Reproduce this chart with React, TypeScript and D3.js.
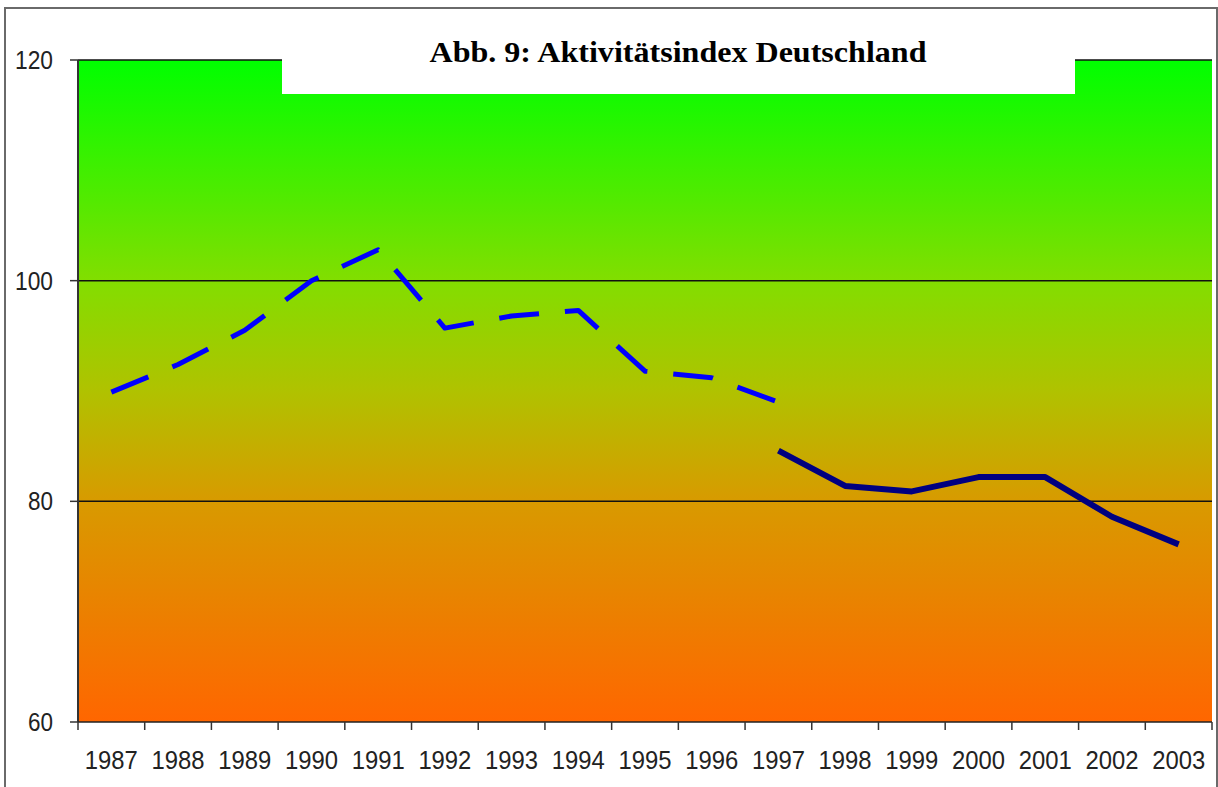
import { useEffect, useRef } from "react";
import * as d3 from "d3";

const years = [
  "1987", "1988", "1989", "1990", "1991", "1992", "1993", "1994", "1995",
  "1996", "1997", "1998", "1999", "2000", "2001", "2002", "2003",
];
// old series (dashed), 1987-1997
const oldYears = years.slice(0, 11);
const oldValues = [89.9, 92.4, 95.5, 100.0, 102.8, 95.7, 96.8, 97.3, 91.8, 91.2, 89.0];
// new series (solid), 1997-2003
const newYears = years.slice(10);
const newValues = [84.6, 81.4, 80.9, 82.2, 82.2, 78.6, 76.1];
const yTicks = [60, 80, 100, 120];
const title = "Abb. 9: Aktivitätsindex Deutschland";

export default function App() {
  const ref = useRef<SVGSVGElement>(null);

  useEffect(() => {
    if (!ref.current) return;
    const el = ref.current;
    const width = 1218;
    const height = 787;
    const plot = { left: 78, right: 1212, top: 60, bottom: 722 };

    d3.select(el).selectAll("*").remove();
    const svg = d3.select(el).attr("width", width).attr("height", height);

    const x = d3.scaleBand().domain(years).range([plot.left, plot.right]).padding(0);
    const y = d3.scaleLinear().domain([60, 120]).range([plot.bottom, plot.top]);

    // outer chart frame
    svg
      .append("rect")
      .attr("x", 5)
      .attr("y", 8)
      .attr("width", 1212)
      .attr("height", 820)
      .attr("fill", "white")
      .attr("stroke", "#6a6a6a")
      .attr("stroke-width", 2);

    // background gradient
    const grad = svg
      .append("defs")
      .append("linearGradient")
      .attr("id", "bg")
      .attr("x1", 0)
      .attr("y1", 0)
      .attr("x2", 0)
      .attr("y2", 1);
    const stops: [number, string][] = [
      [0, "#00ff00"],
      [0.333, "#82de00"],
      [0.5, "#b0c200"],
      [0.667, "#d89a00"],
      [1, "#ff6600"],
    ];
    grad
      .selectAll("stop")
      .data(stops)
      .join("stop")
      .attr("offset", (d) => d[0])
      .attr("stop-color", (d) => d[1]);

    svg
      .append("rect")
      .attr("x", plot.left)
      .attr("y", y(120))
      .attr("width", plot.right - plot.left)
      .attr("height", y(60) - y(120))
      .attr("fill", "url(#bg)");

    // gridlines
    svg
      .selectAll(".grid")
      .data(yTicks.filter((t) => t > 60))
      .join("line")
      .attr("class", "grid")
      .attr("x1", plot.left)
      .attr("x2", plot.right)
      .attr("y1", (d) => y(d))
      .attr("y2", (d) => y(d))
      .attr("stroke", "#111")
      .attr("stroke-width", 1.5);

    // y axis
    svg
      .append("line")
      .attr("x1", plot.left)
      .attr("x2", plot.left)
      .attr("y1", y(120))
      .attr("y2", y(60))
      .attr("stroke", "#333")
      .attr("stroke-width", 2);
    svg
      .selectAll(".ytick")
      .data(yTicks)
      .join("line")
      .attr("class", "ytick")
      .attr("x1", plot.left - 8)
      .attr("x2", plot.left)
      .attr("y1", (d) => y(d))
      .attr("y2", (d) => y(d))
      .attr("stroke", "#333")
      .attr("stroke-width", 1.5);
    svg
      .selectAll(".ylab")
      .data(yTicks)
      .join("text")
      .attr("class", "ylab")
      .attr("x", 53)
      .attr("y", (d) => y(d) + 9)
      .attr("text-anchor", "end")
      .attr("textLength", (d) => (String(d).length === 3 ? 38 : 25))
      .attr("lengthAdjust", "spacingAndGlyphs")
      .style("font-family", "'Liberation Sans', Arial, sans-serif")
      .style("font-size", "26px")
      .style("fill", "#222")
      .text((d) => d);

    // x axis
    svg
      .append("line")
      .attr("x1", plot.left)
      .attr("x2", plot.right)
      .attr("y1", y(60))
      .attr("y2", y(60))
      .attr("stroke", "#222")
      .attr("stroke-width", 1.5);
    const edges = years.map((yr) => x(yr) as number).concat([plot.right]);
    svg
      .selectAll(".xtick")
      .data(edges)
      .join("line")
      .attr("class", "xtick")
      .attr("x1", (d) => d)
      .attr("x2", (d) => d)
      .attr("y1", y(60))
      .attr("y2", y(60) + 8)
      .attr("stroke", "#333")
      .attr("stroke-width", 1.5);
    svg
      .selectAll(".xlab")
      .data(years)
      .join("text")
      .attr("class", "xlab")
      .attr("x", (d) => (x(d) as number) + x.bandwidth() / 2)
      .attr("y", 769)
      .attr("text-anchor", "middle")
      .attr("textLength", 53)
      .attr("lengthAdjust", "spacingAndGlyphs")
      .style("font-family", "'Liberation Sans', Arial, sans-serif")
      .style("font-size", "26px")
      .style("fill", "#222")
      .text((d) => d);

    // lines
    const cx = (yr: string) => (x(yr) as number) + x.bandwidth() / 2;
    const line = d3
      .line<[string, number]>()
      .x((d) => cx(d[0]))
      .y((d) => y(d[1]));

    svg
      .append("path")
      .datum(oldYears.map((yr, i) => [yr, oldValues[i]] as [string, number]))
      .attr("d", line)
      .attr("fill", "none")
      .attr("stroke", "#0000ff")
      .attr("stroke-width", 5)
      .attr("stroke-dasharray", "40 26")
      .attr("stroke-linejoin", "round");

    svg
      .append("path")
      .datum(newYears.map((yr, i) => [yr, newValues[i]] as [string, number]))
      .attr("d", line)
      .attr("fill", "none")
      .attr("stroke", "#000080")
      .attr("stroke-width", 6)
      .attr("stroke-linejoin", "round");

    // title box
    svg
      .append("rect")
      .attr("x", 282)
      .attr("y", 56)
      .attr("width", 793)
      .attr("height", 38)
      .attr("fill", "white");
    svg
      .append("text")
      .attr("x", 678)
      .attr("y", 62)
      .attr("text-anchor", "middle")
      .attr("textLength", 497)
      .attr("lengthAdjust", "spacingAndGlyphs")
      .style("font-family", "'Liberation Serif', 'Times New Roman', serif")
      .style("font-weight", "bold")
      .style("font-size", "30px")
      .style("fill", "#000")
      .text(title);
  }, []);

  return <svg ref={ref} style={{ position: "absolute", left: 0, top: 0 }} />;
}
